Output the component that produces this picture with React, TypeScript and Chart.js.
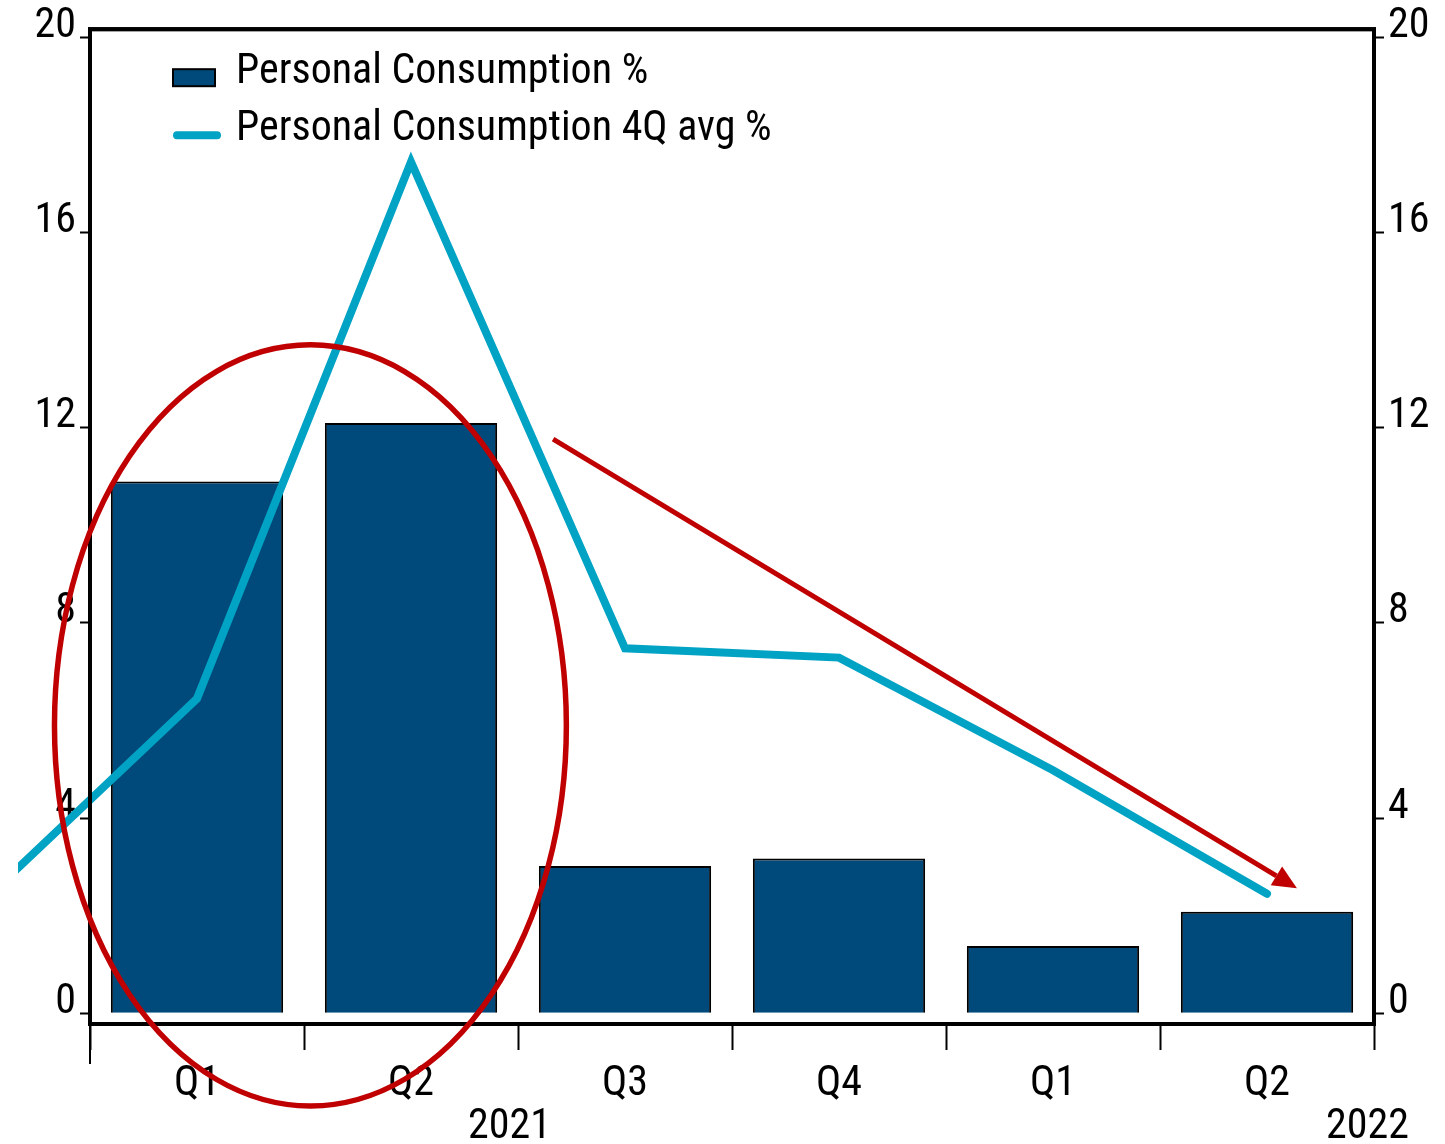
import React, { useEffect, useRef } from 'react';
import { Chart, registerables } from 'chart.js';

Chart.register(...registerables);

// Data (index 0 = previous quarter, only the 4Q avg line reaches it, outside the frame)
const categories = ['2020Q4', '2021Q1', '2021Q2', '2021Q3', '2021Q4', '2022Q1', '2022Q2'];
const quarterLabels = ['Q4', 'Q1', 'Q2', 'Q3', 'Q4', 'Q1', 'Q2'];
const consumption = [null, 10.9, 12.1, 3.02, 3.17, 1.38, 2.08];
const consumption4Q = [2.3, 6.45, 17.45, 7.48, 7.29, 4.98, 2.45];
const yTicks = [0, 4, 8, 12, 16, 20];
const yearLabels = ['2021', '2022'];
const yearPositions = [2.46, 6.47];
const seriesNames = ['Personal Consumption %', 'Personal Consumption 4Q avg %'];

// Annotations in data units (category index, value)
const ellipseCenter = [1.53, 5.9];
const ellipseRadii = [1.196, 7.8];
const arrowFrom = [2.664, 11.77];
const arrowTo = [6.14, 2.56];

const BAR_COLOR = '#004A7B';
const LINE_COLOR = '#00A3C4';
const RED = '#C00000';
const FONT = '"Liberation Sans Narrow", "Roboto Condensed", "DejaVu Sans Condensed", "Liberation Sans", Arial, sans-serif';
const FONT_SIZE = 42;

const decorPlugin = {
  id: 'decor',
  beforeDatasetsDraw(chart: any) {
    const { ctx, chartArea: a } = chart;
    ctx.save();
    ctx.strokeStyle = '#000';
    ctx.lineWidth = 4;
    ctx.strokeRect(a.left, a.top, a.right - a.left, a.bottom - a.top);
    ctx.restore();
  },
  afterDraw(chart: any) {
    const { ctx, chartArea: a, scales } = chart;
    const x = scales.x;
    const y = scales.y;
    const catW = x.getPixelForValue(2) - x.getPixelForValue(1);
    const px = (v: number) => x.getPixelForValue(1) + (v - 1) * catW;
    ctx.save();

    ctx.strokeStyle = '#000';
    ctx.lineWidth = 4;
    ctx.strokeRect(a.left, a.top, a.right - a.left, a.bottom - a.top);

    // long first tick
    ctx.lineWidth = 2;
    ctx.beginPath();
    ctx.moveTo(a.left, a.bottom);
    ctx.lineTo(a.left, a.bottom + 40);
    ctx.stroke();

    // legend
    const lx = a.left + 83;
    ctx.fillStyle = BAR_COLOR;
    ctx.fillRect(lx, a.top + 40, 42, 17);
    ctx.strokeStyle = '#000';
    ctx.lineWidth = 2;
    ctx.strokeRect(lx, a.top + 40, 42, 17);
    ctx.strokeStyle = LINE_COLOR;
    ctx.lineWidth = 8;
    ctx.lineCap = 'round';
    ctx.beginPath();
    ctx.moveTo(lx + 4, a.top + 106);
    ctx.lineTo(lx + 44, a.top + 106);
    ctx.stroke();
    ctx.lineCap = 'butt';
    ctx.fillStyle = '#000';
    ctx.font = `${FONT_SIZE}px ${FONT}`;
    ctx.textAlign = 'left';
    ctx.textBaseline = 'alphabetic';
    ctx.fillText(seriesNames[0], lx + 63, a.top + 54);
    ctx.fillText(seriesNames[1], lx + 63, a.top + 111);

    // year labels
    ctx.textAlign = 'center';
    yearLabels.forEach((t, i) => {
      ctx.fillText(t, px(yearPositions[i]), a.bottom + 114);
    });

    // ellipse
    ctx.strokeStyle = RED;
    ctx.lineWidth = 5.5;
    ctx.beginPath();
    const ecx = px(ellipseCenter[0]);
    const ecy = y.getPixelForValue(ellipseCenter[1]);
    const erx = ellipseRadii[0] * catW;
    const ery = Math.abs(y.getPixelForValue(0) - y.getPixelForValue(ellipseRadii[1]));
    ctx.ellipse(ecx, ecy, erx, ery, 0, 0, Math.PI * 2);
    ctx.stroke();

    // arrow
    const x1 = px(arrowFrom[0]);
    const y1 = y.getPixelForValue(arrowFrom[1]);
    const x2 = px(arrowTo[0]);
    const y2 = y.getPixelForValue(arrowTo[1]);
    const ang = Math.atan2(y2 - y1, x2 - x1);
    const headLen = 24;
    const headW = 11;
    const bx = x2 - headLen * Math.cos(ang);
    const by = y2 - headLen * Math.sin(ang);
    ctx.lineWidth = 5;
    ctx.beginPath();
    ctx.moveTo(x1, y1);
    ctx.lineTo(bx, by);
    ctx.stroke();
    ctx.fillStyle = RED;
    ctx.beginPath();
    ctx.moveTo(x2, y2);
    ctx.lineTo(bx + headW * Math.sin(ang), by - headW * Math.cos(ang));
    ctx.lineTo(bx - headW * Math.sin(ang), by + headW * Math.cos(ang));
    ctx.closePath();
    ctx.fill();

    ctx.restore();
  },
};

export default function App() {
  const canvasRef = useRef<HTMLCanvasElement | null>(null);

  useEffect(() => {
    if (!canvasRef.current) return;
    const chart = new Chart(canvasRef.current, {
      type: 'bar',
      data: {
        labels: categories,
        datasets: [
          {
            type: 'line',
            label: seriesNames[1],
            data: consumption4Q,
            borderColor: LINE_COLOR,
            backgroundColor: LINE_COLOR,
            borderWidth: 8,
            pointRadius: 0,
            tension: 0,
            borderCapStyle: 'round',
            borderJoinStyle: 'miter',
            yAxisID: 'y',
            clip: { left: 72, top: 0, right: 0, bottom: 0 },
            order: 0,
          } as any,
          {
            type: 'bar',
            label: seriesNames[0],
            data: consumption,
            backgroundColor: BAR_COLOR,
            borderColor: '#000',
            borderWidth: 2,
            categoryPercentage: 1,
            barPercentage: 0.805,
            yAxisID: 'y',
            order: 1,
          } as any,
        ],
      },
      options: {
        animation: false,
        responsive: false,
        events: [],
        layout: { padding: { top: 28, left: 0, right: 0, bottom: 0 } },
        plugins: { legend: { display: false }, tooltip: { enabled: false } },
        scales: {
          x: {
            type: 'category',
            min: 1,
            offset: true,
            grid: {
              offset: true,
              drawOnChartArea: false,
              drawTicks: true,
              tickLength: 26,
              tickWidth: 2,
              tickColor: '#000',
            },
            border: { display: false },
            ticks: {
              color: '#000',
              font: { family: FONT, size: FONT_SIZE },
              padding: 9,
              maxRotation: 0,
              autoSkip: false,
              callback: (_v: any, i: number, ticks: any[]) => quarterLabels[ticks[i].value],
            },
            afterFit: (s: any) => { s.height = 120; },
          },
          y: {
            position: 'left',
            min: -0.22,
            max: 20.17,
            afterBuildTicks: (s: any) => { s.ticks = yTicks.map((v) => ({ value: v })); },
            grid: { drawOnChartArea: false, tickLength: 10, tickWidth: 2, tickColor: '#000' },
            border: { display: false },
            ticks: {
              color: '#000',
              font: { family: FONT, size: FONT_SIZE },
              padding: 4,
              labelOffset: -11,
            },
            afterFit: (s: any) => { s.width = 90; },
          },
          y2: {
            position: 'right',
            min: -0.22,
            max: 20.17,
            afterBuildTicks: (s: any) => { s.ticks = yTicks.map((v) => ({ value: v })); },
            grid: { drawOnChartArea: false, tickLength: 10, tickWidth: 2, tickColor: '#000' },
            border: { display: false },
            ticks: {
              color: '#000',
              font: { family: FONT, size: FONT_SIZE },
              padding: 4,
              labelOffset: -11,
            },
            afterFit: (s: any) => { s.width = 71; },
          },
        },
      } as any,
      plugins: [decorPlugin],
    });
    return () => chart.destroy();
  }, []);

  return (
    <div style={{ position: 'fixed', left: 0, top: 0, width: 1445, height: 1144, background: '#fff' }}>
      <canvas ref={canvasRef} width={1445} height={1144} />
    </div>
  );
}
